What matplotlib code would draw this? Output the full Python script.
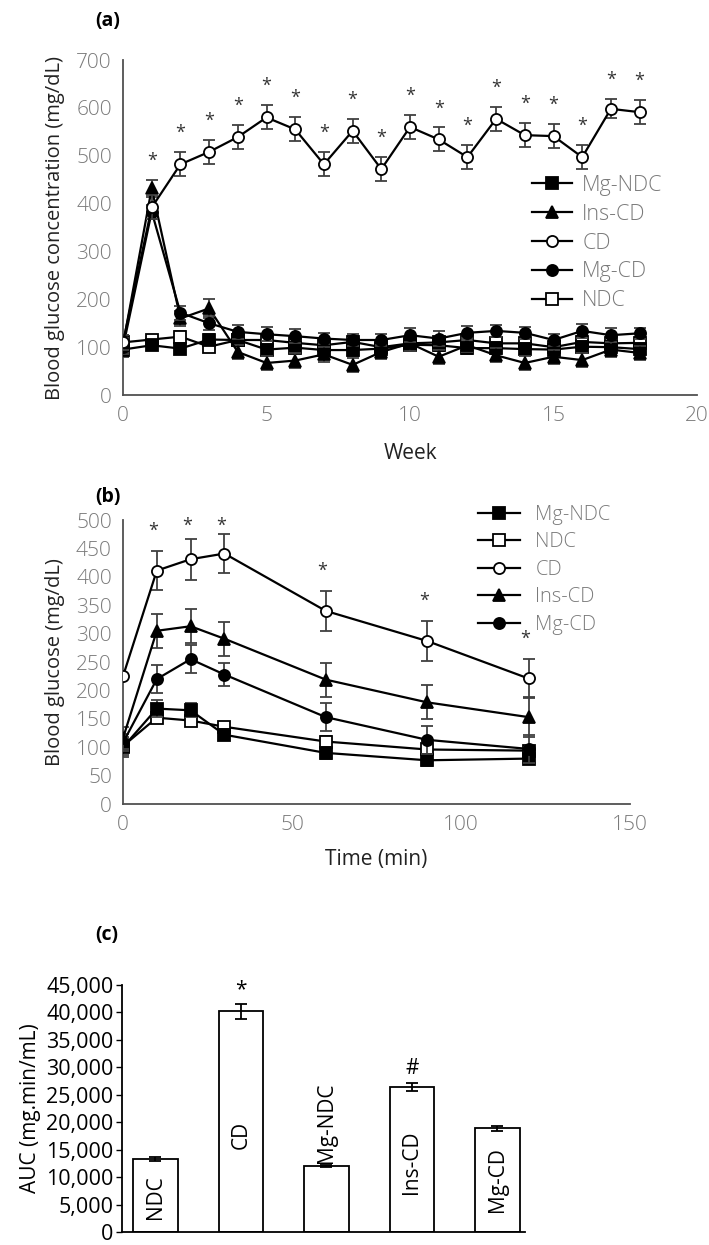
import matplotlib
matplotlib.use("Agg")
import matplotlib.pyplot as plt

plt.rcParams['font.family'] = ['Open Sans', 'DejaVu Sans']

# ============================================
# DATA
# ============================================
# (a) weekly blood glucose (mg/dL)
weeks = list(range(19))
cd_a = [110, 392, 482, 508, 539, 580, 555, 482, 552, 472, 560, 534, 497, 577, 543, 541, 497, 598, 591]
cd_a_err = [15, 25, 25, 25, 25, 25, 25, 25, 25, 25, 25, 25, 25, 25, 25, 25, 25, 20, 25]
mg_cd_a = [100, 383, 172, 150, 132, 127, 123, 118, 115, 115, 125, 118, 130, 134, 130, 115, 134, 125, 129]
mg_cd_a_err = [15, 15, 15, 15, 15, 15, 15, 12, 12, 12, 15, 15, 15, 12, 12, 12, 15, 15, 12]
ins_cd_a = [105, 432, 160, 181, 90, 67, 72, 85, 63, 90, 108, 80, 104, 83, 67, 80, 73, 95, 88]
ins_cd_a_err = [15, 18, 15, 20, 15, 15, 15, 15, 15, 15, 15, 15, 15, 15, 15, 15, 15, 15, 15]
mg_ndc_a = [95, 104, 97, 116, 115, 95, 99, 94, 94, 97, 105, 104, 98, 98, 96, 95, 101, 100, 96]
mg_ndc_a_err = [15, 10, 10, 12, 12, 12, 12, 12, 12, 12, 12, 12, 12, 12, 12, 12, 12, 12, 12]
ndc_a = [110, 116, 122, 101, 115, 115, 109, 104, 111, 100, 108, 110, 115, 108, 108, 100, 111, 108, 109]
ndc_a_err = [15, 10, 12, 12, 12, 12, 12, 12, 12, 12, 12, 12, 12, 12, 12, 12, 12, 12, 12]

# (b) glucose tolerance test (mg/dL)
times = [0, 10, 20, 30, 60, 90, 120]
mg_ndc_b = [100, 168, 165, 122, 90, 77, 80]
mg_ndc_b_err = [18, 15, 12, 10, 10, 10, 10]
ndc_b = [102, 152, 147, 136, 110, 96, 94]
ndc_b_err = [15, 10, 10, 8, 10, 8, 8]
cd_b = [225, 411, 431, 441, 340, 287, 221]
cd_b_err = [0, 35, 36, 35, 35, 35, 35]
ins_cd_b = [116, 305, 313, 291, 219, 179, 153]
ins_cd_b_err = [20, 30, 30, 30, 30, 30, 35]
mg_cd_b = [108, 220, 255, 228, 153, 113, 97]
mg_cd_b_err = [15, 25, 25, 20, 25, 25, 25]

# (c) AUC
groups = ["NDC", "CD", "Mg-NDC", "Ins-CD", "Mg-CD"]
auc = [13300, 40200, 12000, 26400, 18900]
auc_err = [400, 1400, 200, 800, 500]
auc_marks = ["", "*", "", "#", ""]

# ============================================
# STYLE
# ============================================
grey_txt = "#7a7a7a"
spine_col = "#505050"
err_col = "#404040"

markers = {
    "Mg-NDC": dict(marker="s", mfc="black"),
    "NDC": dict(marker="s", mfc="white"),
    "CD": dict(marker="o", mfc="white"),
    "Ins-CD": dict(marker="^", mfc="black"),
    "Mg-CD": dict(marker="o", mfc="black"),
}


def draw_series(ax, x, y, err, name, z):
    ax.errorbar(x, y, yerr=err, fmt="none", ecolor=err_col, elinewidth=1.3,
                capsize=4, capthick=1.3, zorder=z)
    ax.plot(x, y, color="black", linewidth=1.6, markersize=8,
            mec="black", mew=1.3, zorder=z + 0.5, label=name, **markers[name])


def style_line_axes(ax):
    for s in ["top", "right"]:
        ax.spines[s].set_visible(False)
    for s in ["left", "bottom"]:
        ax.spines[s].set_color(spine_col)
        ax.spines[s].set_linewidth(1.3)
    ax.tick_params(length=0, labelsize=15, labelcolor=grey_txt, pad=8)
    for lab in ax.get_xticklabels() + ax.get_yticklabels():
        lab.set_fontweight("light")


def make_legend(ax, order, anchor, fontsize, handlelength, spacing, textpad):
    handles = {h.get_label(): h for h in ax.get_lines() if not h.get_label().startswith("_")}
    leg = ax.legend([handles[n] for n in order], order, loc="upper left",
                    bbox_to_anchor=anchor, frameon=False, fontsize=fontsize,
                    handlelength=handlelength, labelspacing=spacing,
                    handletextpad=textpad, borderpad=0, borderaxespad=0)
    for t in leg.get_texts():
        t.set_color(grey_txt)
        t.set_fontweight("light")


fig = plt.figure(figsize=(7.09, 12.45), dpi=100)

# ============================================
# (a)
# ============================================
ax_a = fig.add_axes([0.1735, 0.6827, 0.8096, 0.2691])
draw_series(ax_a, weeks, ndc_a, ndc_a_err, "NDC", 2)
draw_series(ax_a, weeks, mg_ndc_a, mg_ndc_a_err, "Mg-NDC", 3)
draw_series(ax_a, weeks, ins_cd_a, ins_cd_a_err, "Ins-CD", 4)
draw_series(ax_a, weeks, mg_cd_a, mg_cd_a_err, "Mg-CD", 5)
draw_series(ax_a, weeks, cd_a, cd_a_err, "CD", 6)

ax_a.set_xlim(0, 20)
ax_a.set_ylim(0, 700)
ax_a.set_xticks([0, 5, 10, 15, 20])
ax_a.set_yticks(range(0, 701, 100))
style_line_axes(ax_a)
ax_a.set_xlabel("Week", fontsize=15, labelpad=12, color="#222222")
ax_a.set_ylabel("Blood glucose concentration (mg/dL)", fontsize=14.5,
                color="#222222", labelpad=8)

all_a = [(cd_a, cd_a_err), (mg_cd_a, mg_cd_a_err), (ins_cd_a, ins_cd_a_err),
         (mg_ndc_a, mg_ndc_a_err), (ndc_a, ndc_a_err)]
for i, w in enumerate(weeks):
    if w == 0:
        continue
    top = max(v[i] + e[i] for v, e in all_a)
    ax_a.text(w, top + 40, "*", ha="center", va="center", fontsize=13, color="#333333")

make_legend(ax_a, ["Mg-NDC", "Ins-CD", "CD", "Mg-CD", "NDC"], (0.712, 0.658),
            15.5, 1.85, 0.37, 0.5)

fig.text(0.135, 0.983, "(a)", fontsize=14, fontweight="bold", va="center")

# ============================================
# (b)
# ============================================
ax_b = fig.add_axes([0.1735, 0.3542, 0.715, 0.2281])
draw_series(ax_b, times, ndc_b, ndc_b_err, "NDC", 2)
draw_series(ax_b, times, mg_ndc_b, mg_ndc_b_err, "Mg-NDC", 3)
draw_series(ax_b, times, mg_cd_b, mg_cd_b_err, "Mg-CD", 4)
draw_series(ax_b, times, ins_cd_b, ins_cd_b_err, "Ins-CD", 5)
draw_series(ax_b, times, cd_b, cd_b_err, "CD", 6)

ax_b.set_xlim(0, 150)
ax_b.set_ylim(0, 500)
ax_b.set_xticks([0, 50, 100, 150])
ax_b.set_yticks(range(0, 501, 50))
style_line_axes(ax_b)
ax_b.set_xlabel("Time (min)", fontsize=15, labelpad=10, color="#222222")
ax_b.set_ylabel("Blood glucose (mg/dL)", fontsize=14.5, color="#222222", labelpad=8)

for i, t in enumerate(times):
    if t == 0:
        continue
    ax_b.text(t - 1, min(cd_b[i] + cd_b_err[i] + 35, 490), "*", ha="center",
              va="center", fontsize=13, color="#333333", clip_on=False)

make_legend(ax_b, ["Mg-NDC", "NDC", "CD", "Ins-CD", "Mg-CD"], (0.70, 1.053),
            14.5, 2.1, 0.37, 0.75)

fig.text(0.135, 0.601, "(b)", fontsize=14, fontweight="bold", va="center")

# ============================================
# (c)
# ============================================
ax_c = fig.add_axes([0.172, 0.0104, 0.568, 0.1985])
xpos = list(range(len(groups)))
ax_c.bar(xpos, auc, width=0.52, color="white", edgecolor="black", linewidth=1.3, zorder=2)
ax_c.errorbar(xpos, auc, yerr=auc_err, fmt="none", ecolor="black", elinewidth=1.3,
              capsize=4, capthick=1.3, zorder=3)
ax_c.set_xlim(-0.39, 4.32)
ax_c.set_ylim(0, 45000)
ax_c.set_yticks(range(0, 45001, 5000))
ax_c.set_yticklabels([f"{v:,}" for v in range(0, 45001, 5000)])
ax_c.set_xticks([])
for s in ["top", "right"]:
    ax_c.spines[s].set_visible(False)
for s in ["left", "bottom"]:
    ax_c.spines[s].set_linewidth(1.3)
ax_c.tick_params(axis="y", length=4, width=1, labelsize=15.5, pad=2)
ax_c.set_ylabel("AUC (mg.min/mL)", fontsize=15)

label_pos = [6300, 17700, 19900, 12700, 9600]
for x, g, yl in zip(xpos, groups, label_pos):
    ax_c.text(x, yl, g, rotation=90, ha="center", va="center", fontsize=15)
for x, v, e, m in zip(xpos, auc, auc_err, auc_marks):
    if m:
        ax_c.text(x, v + e + 700, m, ha="center", va="bottom", fontsize=15)

fig.text(0.135, 0.249, "(c)", fontsize=14, fontweight="bold", va="center")

fig.savefig("out.png", dpi=100)
